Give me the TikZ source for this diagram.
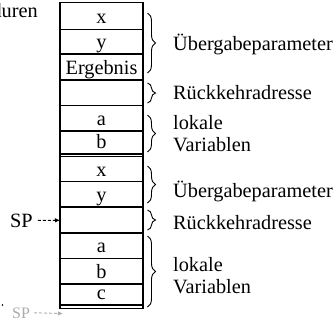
\documentclass[tikz,border=0pt]{standalone}
\usepackage{fontspec}
\setmainfont{Liberation Serif}
\usetikzlibrary{decorations.pathreplacing,arrows.meta}
\begin{document}
\begin{tikzpicture}[x=1pt,y=-1pt,
  frame/.style={line width=1.3pt},
  edge/.style={line width=1.9pt},
  cell/.style={anchor=base,inner sep=0pt,font=\fontsize{20.3}{22}\selectfont},
  lbl/.style={anchor=base west,inner sep=0pt,font=\fontsize{20.3}{22}\selectfont},
  curly/.style={decorate,decoration={brace,amplitude=8pt},line width=0.9pt},
  sparrow/.style={dash pattern=on 3pt off 2pt,line width=0.9pt,-{Latex[length=5pt,width=4.5pt]}}
]
\useasboundingbox (0,0) rectangle (334,325);
\clip (0,0) rectangle (334,325);

% heading of the surrounding figure, cut at the left border
\node[anchor=base east,inner sep=0pt,font=\fontsize{20.3}{22}\selectfont] (proc) at (38,17) {Prozeduren};

% upper stack frame
\draw[frame] (60,2.7) rectangle (143,154);
\foreach \y in {29.3,54,80,105.5,131} \draw[frame] (60,\y) -- (143,\y);
% lower stack frame
\draw[frame] (60,156.7) rectangle (143,305);
\foreach \y in {181.7,207,233,258.3,284} \draw[frame] (60,\y) -- (143,\y);
\draw[frame] (60,308.3) -- (143,308.3);
\draw[edge] (60,2) -- (60,309);
\draw[frame] (143,2) -- (143,309);

% cell contents (baseline 5.5 above each cell's lower line)
\node[cell] (x1) at (101.5,23.8) {x};
\node[cell] (y1) at (101.5,48.5) {y};
\node[cell] (erg) at (101.5,74.5) {Ergebnis};
\node[cell] (a1) at (101.5,125.5) {a};
\node[cell] (b1) at (101.5,148.5) {b};
\node[cell] (x2) at (101.5,176.2) {x};
\node[cell] (y2) at (101.5,201.5) {y};
\node[cell] (a2) at (101.5,252.8) {a};
\node[cell] (b2) at (101.5,278.5) {b};
\node[cell] (c2) at (101.5,299.5) {c};

% braces
\draw[curly] (147.5,13) -- (147.5,73);
\draw[curly] (147.5,83) -- (147.5,103);
\draw[curly] (147.5,115) -- (147.5,152);
\draw[curly] (147.5,166) -- (147.5,203);
\draw[curly] (147.5,210) -- (147.5,230);
\draw[curly] (147.5,236) -- (147.5,307);

% brace labels
\node[lbl] (ueb1) at (173,50) {Übergabeparameter};
\node[lbl] (rueck1) at (173,99) {Rückkehradresse};
\node[lbl] (lok1) at (173,129) {lokale};
\node[lbl] (var1) at (173,151.5) {Variablen};
\node[lbl] (ueb2) at (173,197) {Übergabeparameter};
\node[lbl] (rueck2) at (173,229) {Rückkehradresse};
\node[lbl] (lok2) at (173,271) {lokale};
\node[lbl] (var2) at (173,293) {Variablen};

% stack pointer, current and next position
\node[lbl] (sp) at (10,227) {SP};
\coordinate (sptarget) at (60,220.3);
\draw[sparrow] ([xshift=5pt]sp.east) -- (sptarget);

\node[anchor=base west,inner sep=0pt,font=\fontsize{16}{18}\selectfont,text=black!33] (spnext) at (12,318) {SP};
\coordinate (spnexttarget) at (63,313.5);
\draw[sparrow,black!33] ([xshift=4pt]spnext.east) -- (spnexttarget);

\fill (2.5,305) circle (0.8);
\end{tikzpicture}
\end{document}
